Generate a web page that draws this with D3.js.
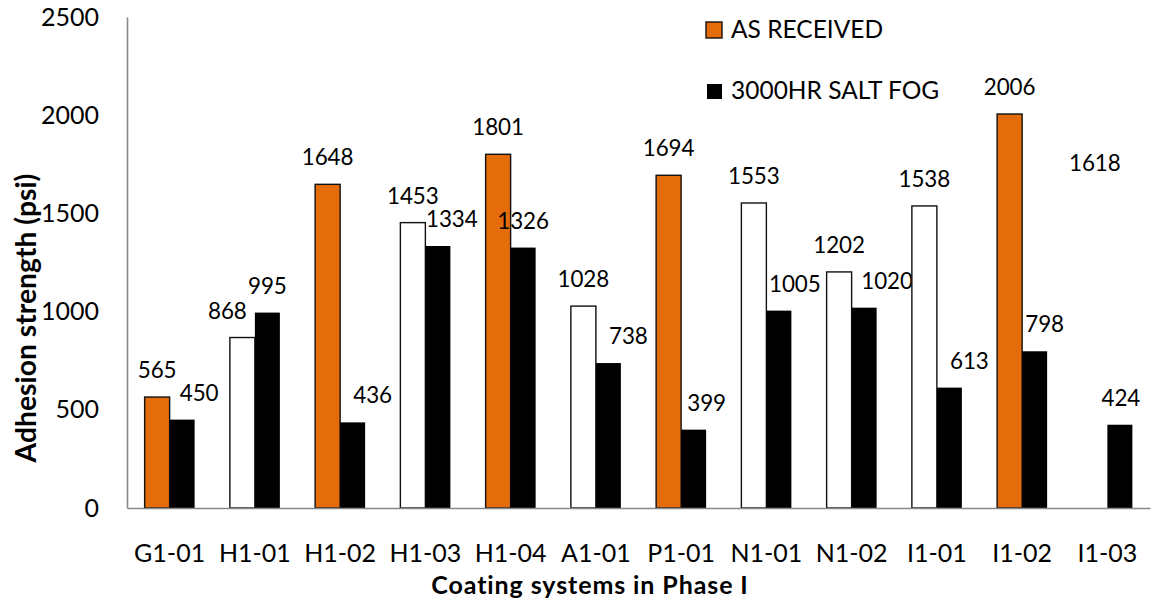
<!DOCTYPE html>
<html>
<head>
<meta charset="utf-8">
<script src="https://cdn.jsdelivr.net/npm/d3@7"></script>
<style>
  html, body { margin: 0; padding: 0; background: #fff; }
  svg { display: block; }
  text { font-family: Lato, "Open Sans", sans-serif; fill: #000; }
</style>
</head>
<body>
<svg id="chart" width="1151" height="602"></svg>
<script>
// Coating systems tested in Phase I
const categories = ["G1-01", "H1-01", "H1-02", "H1-03", "H1-04", "A1-01",
                    "P1-01", "N1-01", "N1-02", "I1-01", "I1-02", "I1-03"];
// Pull-off adhesion strength (psi)
const asReceived = [565, 868, 1648, 1453, 1801, 1028, 1694, 1553, 1202, 1538, 2006, 1618];
const saltFog    = [450, 995, 436, 1334, 1326, 738, 399, 1005, 1020, 613, 798, 424];
const seriesNames = ["AS RECEIVED", "3000HR SALT FOG"];
const yTicks = [0, 500, 1000, 1500, 2000, 2500];

// Systems whose as-received bar is shown in orange; the rest are open bars
const highlighted = ["G1-01", "H1-02", "H1-04", "P1-01", "I1-02"];
// As-received bar left unfilled and unoutlined (label only)
const unmarked = ["I1-03"];

// Hand-placed horizontal nudges for data labels (px)
const labelNudgeAR = { "H1-01": -15 };
const labelNudgeSF = { "G1-01": 17, "H1-02": 20, "H1-03": 14, "A1-01": 20, "P1-01": 13,
                       "N1-01": 16, "N1-02": 23, "I1-01": 20, "I1-02": 10, "I1-03": 1 };

const ORANGE = "#E46C0A";
const AXIS = "#898989";

const svg = d3.select("#chart");
const plot = { left: 127, right: 1150, top: 17, bottom: 508 };

const x0 = d3.scaleBand().domain(categories).range([plot.left, plot.right]).padding(0);
const x1 = d3.scaleBand().domain(seriesNames).range([0, x0.bandwidth()])
  .paddingInner(0).paddingOuter(0.705);
const y = d3.scaleLinear().domain([0, 2500]).range([plot.bottom, plot.top]);

const rows = categories.map((c, i) => ({ cat: c, ar: asReceived[i], sf: saltFog[i] }));

// Y axis line and tick labels
const yAxis = d3.axisLeft(y).tickValues(yTicks).tickSize(0).tickPadding(28).tickFormat(d3.format("d"));
const gy = svg.append("g").attr("transform", `translate(${plot.left},0)`).call(yAxis);
gy.select(".domain").attr("stroke", AXIS).attr("stroke-width", 1.6);
gy.selectAll("text").attr("font-size", 25).attr("font-family", "Lato").attr("fill", "#000");

// Bars
const groups = svg.append("g").selectAll("g").data(rows).join("g")
  .attr("transform", d => `translate(${x0(d.cat)},0)`);

groups.append("rect")
  .attr("x", x1(seriesNames[0]))
  .attr("y", d => y(d.ar))
  .attr("width", x1.bandwidth())
  .attr("height", d => y(0) - y(d.ar))
  .attr("fill", d => highlighted.includes(d.cat) ? ORANGE : "#fff")
  .attr("stroke", d => unmarked.includes(d.cat) ? "none" : "#111")
  .attr("stroke-width", 1.4);

groups.append("rect")
  .attr("x", x1(seriesNames[1]))
  .attr("y", d => y(d.sf))
  .attr("width", x1.bandwidth())
  .attr("height", d => y(0) - y(d.sf))
  .attr("fill", "#000");

// Data labels
groups.append("text")
  .attr("x", d => x1(seriesNames[0]) + x1.bandwidth() / 2 + (labelNudgeAR[d.cat] || 0))
  .attr("y", d => y(d.ar) - 19)
  .attr("text-anchor", "middle")
  .attr("font-size", 22.4)
  .text(d => d.ar);

groups.append("text")
  .attr("x", d => x1(seriesNames[1]) + x1.bandwidth() / 2 + (labelNudgeSF[d.cat] || 0))
  .attr("y", d => y(d.sf) - 19)
  .attr("text-anchor", "middle")
  .attr("font-size", 22.4)
  .text(d => d.sf);

// X axis line and category labels
const xAxis = d3.axisBottom(x0).tickSize(0).tickPadding(0);
const gx = svg.append("g").attr("transform", `translate(0,${plot.bottom})`).call(xAxis);
gx.select(".domain").attr("stroke", AXIS).attr("stroke-width", 1.6);
gx.selectAll("text").attr("font-size", 25).attr("font-family", "Lato").attr("fill", "#000")
  .attr("dy", null).attr("y", 54);

// Axis titles
svg.append("text")
  .attr("x", 590).attr("y", 594)
  .attr("text-anchor", "middle")
  .attr("font-size", 25).attr("font-weight", "bold")
  .attr("letter-spacing", 0.9)
  .text("Coating systems in Phase I");

const yTitle = svg.append("text")
  .attr("transform", "translate(36,318) rotate(-90)")
  .attr("text-anchor", "middle")
  .attr("font-weight", "bold")
  .attr("font-size", 20)
  .text("Adhesion strength (psi)");
// scale the rotated title to span 289px
yTitle.attr("font-size", 20 * 289 / yTitle.node().getComputedTextLength());

// Legend
const legend = svg.append("g");
legend.append("rect").attr("x", 706).attr("y", 22).attr("width", 16).attr("height", 16)
  .attr("fill", ORANGE).attr("stroke", "#111").attr("stroke-width", 1.4);
legend.append("text").attr("x", 731).attr("y", 38).attr("font-size", 24.5).text(seriesNames[0]);
legend.append("rect").attr("x", 707).attr("y", 84).attr("width", 15).attr("height", 15)
  .attr("fill", "#000");
legend.append("text").attr("x", 731).attr("y", 99).attr("font-size", 24.5).text(seriesNames[1]);
</script>
</body>
</html>
